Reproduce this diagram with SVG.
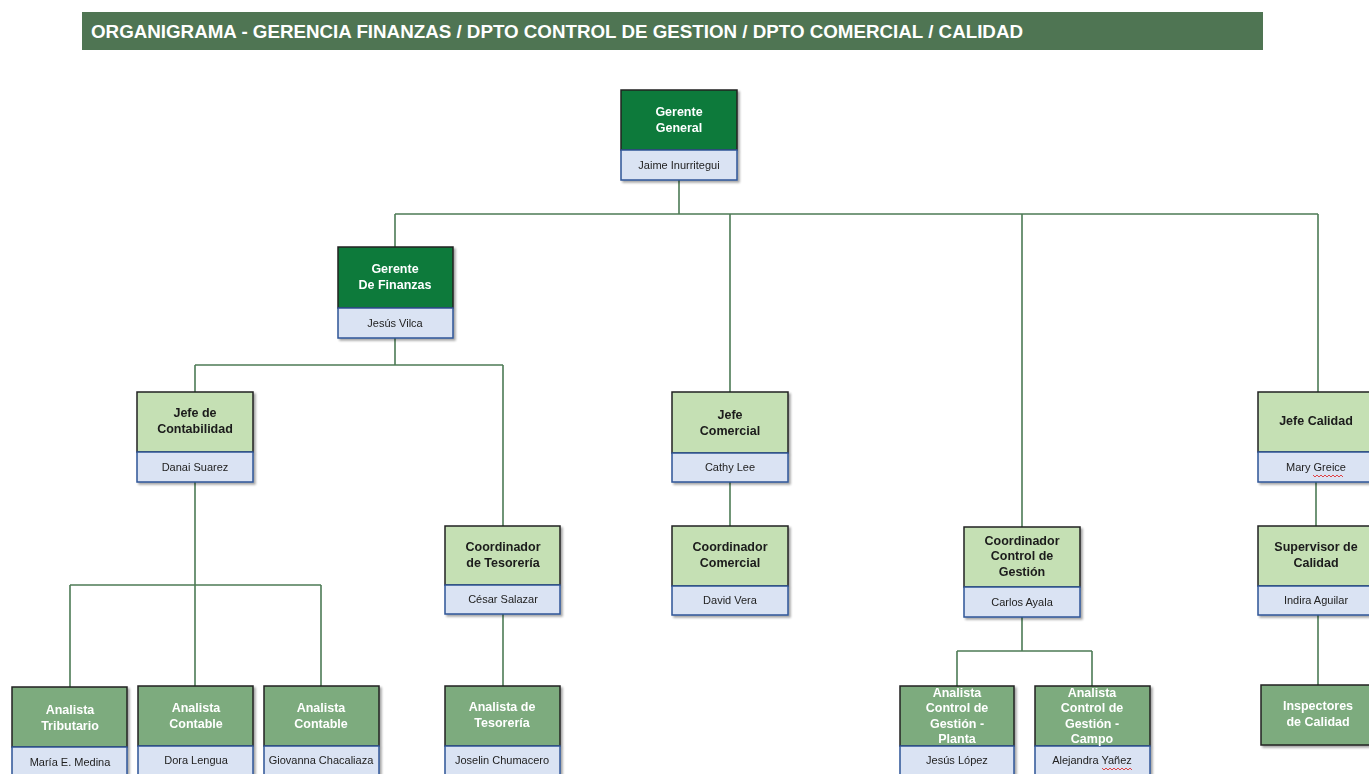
<svg xmlns="http://www.w3.org/2000/svg" width="1369" height="774" viewBox="0 0 1369 774">
<defs>
<filter id="sh" x="-10%" y="-10%" width="130%" height="130%">
<feDropShadow dx="2" dy="2" stdDeviation="1.2" flood-color="#000" flood-opacity="0.35"/>
</filter>
<style>
.t{stroke:#222;stroke-width:1.5}
.dk{fill:#087a3b}
.lt{fill:#c5e0b4}
.md{fill:#7dab7e}
.nm{fill:#dae3f3;stroke:#2f5597;stroke-width:1.5}
.tw{font-family:"Liberation Sans",Arial,sans-serif;font-weight:bold;font-size:12.5px;fill:#fff;text-anchor:middle}
.tb{font-family:"Liberation Sans",Arial,sans-serif;font-weight:bold;font-size:12.5px;fill:#1a1a1a;text-anchor:middle}
.tn{font-family:"Liberation Sans",Arial,sans-serif;font-size:11px;fill:#222;text-anchor:middle}
.c{fill:none;stroke:#4d7b55;stroke-width:1.6}
.sq{fill:none;stroke:#e03030;stroke-width:0.9}
</style>
</defs>
<rect width="1369" height="774" fill="#fff"/>
<g id="title">
<rect x="82" y="12" width="1181" height="38" fill="#4f7553"/>
<text x="91" y="38" font-family="Liberation Sans,Arial,sans-serif" font-weight="bold" font-size="19" fill="#fff" textLength="932" lengthAdjust="spacingAndGlyphs">ORGANIGRAMA - GERENCIA FINANZAS / DPTO CONTROL DE GESTION / DPTO COMERCIAL / CALIDAD</text>
</g>
<g id="connectors">
<path class="c" d="M679 180V214M395 214H1318M395 214V247M730 214V392M1022 214V527M1318 214V392"/>
<path class="c" d="M395 338V365M195 365H503M195 365V392M503 365V526"/>
<path class="c" d="M195 482V585M70 585H321M70 585V687M195 585V686M321 585V686"/>
<path class="c" d="M503 614V686"/>
<path class="c" d="M730 482V526"/>
<path class="c" d="M1022 617V651M957 651H1092M957 651V686M1092 651V686"/>
<path class="c" d="M1316 482V526M1318 615V685"/>
</g>
<g id="gerente-general" filter="url(#sh)">
<rect class="t dk" x="621" y="90" width="116" height="60"/>
<rect class="nm" x="621" y="150" width="116" height="30"/>
<text class="tw" x="679" y="116">Gerente</text><text class="tw" x="679" y="132">General</text>
<text class="tn" x="679" y="169">Jaime Inurritegui</text>
</g>
<g id="gerente-finanzas" filter="url(#sh)">
<rect class="t dk" x="338" y="247" width="115" height="61"/>
<rect class="nm" x="338" y="308" width="115" height="30"/>
<text class="tw" x="395" y="273">Gerente</text><text class="tw" x="395" y="289">De Finanzas</text>
<text class="tn" x="395" y="327">Jesús Vilca</text>
</g>
<g id="jefe-contabilidad" filter="url(#sh)">
<rect class="t lt" x="137" y="392" width="116" height="60"/>
<rect class="nm" x="137" y="452" width="116" height="30"/>
<text class="tb" x="195" y="417">Jefe de</text><text class="tb" x="195" y="433">Contabilidad</text>
<text class="tn" x="195" y="471">Danai Suarez</text>
</g>
<g id="coord-tesoreria" filter="url(#sh)">
<rect class="t lt" x="445" y="526" width="115" height="59"/>
<rect class="nm" x="445" y="585" width="115" height="29"/>
<text class="tb" x="503" y="551">Coordinador</text><text class="tb" x="503" y="567">de Tesorería</text>
<text class="tn" x="503" y="603">César Salazar</text>
</g>
<g id="analista-tributario" filter="url(#sh)">
<rect class="t md" x="12" y="687" width="115" height="60"/>
<rect class="nm" x="12" y="747" width="115" height="30"/>
<text class="tw" x="70" y="714">Analista</text><text class="tw" x="70" y="730">Tributario</text>
<text class="tn" x="70" y="766">María E. Medina</text>
</g>
<g id="analista-contable-1" filter="url(#sh)">
<rect class="t md" x="138" y="686" width="115" height="60"/>
<rect class="nm" x="138" y="746" width="115" height="30"/>
<text class="tw" x="196" y="712">Analista</text><text class="tw" x="196" y="728">Contable</text>
<text class="tn" x="196" y="764">Dora Lengua</text>
</g>
<g id="analista-contable-2" filter="url(#sh)">
<rect class="t md" x="264" y="686" width="115" height="60"/>
<rect class="nm" x="264" y="746" width="115" height="30"/>
<text class="tw" x="321" y="712">Analista</text><text class="tw" x="321" y="728">Contable</text>
<text class="tn" x="321" y="764">Giovanna Chacaliaza</text>
</g>
<g id="analista-tesoreria" filter="url(#sh)">
<rect class="t md" x="445" y="686" width="115" height="60"/>
<rect class="nm" x="445" y="746" width="115" height="30"/>
<text class="tw" x="502" y="711">Analista de</text><text class="tw" x="502" y="727">Tesorería</text>
<text class="tn" x="502" y="764">Joselin Chumacero</text>
</g>
<g id="jefe-comercial" filter="url(#sh)">
<rect class="t lt" x="672" y="392" width="116" height="61"/>
<rect class="nm" x="672" y="453" width="116" height="29"/>
<text class="tb" x="730" y="419">Jefe</text><text class="tb" x="730" y="435">Comercial</text>
<text class="tn" x="730" y="471">Cathy Lee</text>
</g>
<g id="coord-comercial" filter="url(#sh)">
<rect class="t lt" x="672" y="526" width="116" height="60"/>
<rect class="nm" x="672" y="586" width="116" height="29"/>
<text class="tb" x="730" y="551">Coordinador</text><text class="tb" x="730" y="567">Comercial</text>
<text class="tn" x="730" y="604">David Vera</text>
</g>
<g id="coord-control-gestion" filter="url(#sh)">
<rect class="t lt" x="964" y="527" width="116" height="60"/>
<rect class="nm" x="964" y="587" width="116" height="30"/>
<text class="tb" x="1022" y="545">Coordinador</text><text class="tb" x="1022" y="560">Control de</text><text class="tb" x="1022" y="576">Gestión</text>
<text class="tn" x="1022" y="606">Carlos Ayala</text>
</g>
<g id="analista-cg-planta" filter="url(#sh)">
<rect class="t md" x="900" y="686" width="114" height="60"/>
<rect class="nm" x="900" y="746" width="114" height="30"/>
<text class="tw" x="957" y="697">Analista</text><text class="tw" x="957" y="712">Control de</text><text class="tw" x="957" y="728">Gestión -</text><text class="tw" x="957" y="743">Planta</text>
<text class="tn" x="957" y="764">Jesús López</text>
</g>
<g id="analista-cg-campo" filter="url(#sh)">
<rect class="t md" x="1035" y="686" width="115" height="60"/>
<rect class="nm" x="1035" y="746" width="115" height="30"/>
<text class="tw" x="1092" y="697">Analista</text><text class="tw" x="1092" y="712">Control de</text><text class="tw" x="1092" y="728">Gestión -</text><text class="tw" x="1092" y="743">Campo</text>
<text class="tn" x="1092" y="764">Alejandra Yañez</text>
<path class="sq" d="M1102 768l2 2 2-2 2 2 2-2 2 2 2-2 2 2 2-2 2 2 2-2 2 2 2-2 2 2 2-2 2 2"/>
</g>
<g id="jefe-calidad" filter="url(#sh)">
<rect class="t lt" x="1258" y="392" width="115" height="60"/>
<rect class="nm" x="1258" y="452" width="115" height="30"/>
<text class="tb" x="1316" y="425">Jefe Calidad</text>
<text class="tn" x="1316" y="471">Mary Greice</text>
<path class="sq" d="M1313 475l2 2 2-2 2 2 2-2 2 2 2-2 2 2 2-2 2 2 2-2 2 2 2-2 2 2 2-2 2 2"/>
</g>
<g id="supervisor-calidad" filter="url(#sh)">
<rect class="t lt" x="1258" y="526" width="115" height="60"/>
<rect class="nm" x="1258" y="586" width="115" height="29"/>
<text class="tb" x="1316" y="551">Supervisor de</text><text class="tb" x="1316" y="567">Calidad</text>
<text class="tn" x="1316" y="604">Indira Aguilar</text>
</g>
<g id="inspectores-calidad" filter="url(#sh)">
<rect class="t md" x="1261" y="685" width="112" height="60"/>
<text class="tw" x="1318" y="710">Inspectores</text><text class="tw" x="1318" y="726">de Calidad</text>
</g>
</svg>
